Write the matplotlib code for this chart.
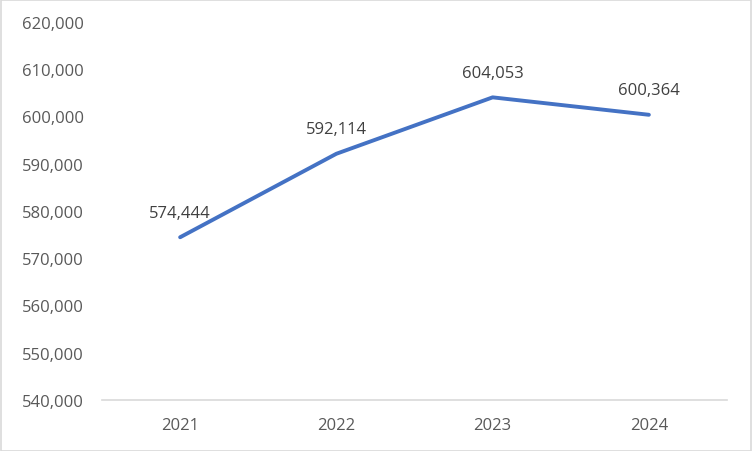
import matplotlib
matplotlib.use("Agg")
import matplotlib.pyplot as plt
from matplotlib.patches import Rectangle

years = ["2021", "2022", "2023", "2024"]
values = [574444, 592114, 604053, 600364]
y_ticks = [540000, 550000, 560000, 570000, 580000, 590000, 600000, 610000, 620000]

plt.rcParams['font.family'] = ['Open Sans', 'DejaVu Sans']

fig = plt.figure(figsize=(7.52, 4.52), dpi=100)
ax = fig.add_axes([102/752, 51/452, (727-102)/752, (401-23)/452])

x = list(range(len(years)))
ax.plot(x, values, color='#4472C4', linewidth=2.8, solid_capstyle='round')
for xi, v in zip(x, values):
    ax.annotate(f"{v:,}", (xi, v), xytext=(0, 17.5), textcoords='offset points',
                ha='center', va='center', fontsize=12, color='#404040')

ax.set_xlim(-0.5, len(years) - 0.5)
ax.set_ylim(y_ticks[0], y_ticks[-1])
ax.set_yticks(y_ticks)
ax.set_yticklabels([f"{t:,}" for t in y_ticks])
ax.set_xticks(x)
ax.set_xticklabels(years)
ax.tick_params(axis='both', length=0, labelsize=12, labelcolor='#595959')
ax.tick_params(axis='y', pad=13)
ax.tick_params(axis='x', pad=12)
for s in ['top', 'right', 'left']:
    ax.spines[s].set_visible(False)
ax.spines['bottom'].set_color('#d9d9d9')
ax.spines['bottom'].set_linewidth(1.2)

fig.patches.append(Rectangle((0.5/752, 0.5/452), 1 - 1.5/752, 1 - 1.5/452,
                             transform=fig.transFigure, fill=False,
                             edgecolor='#d9d9d9', linewidth=1.2))

fig.savefig("out.png", dpi=100)
